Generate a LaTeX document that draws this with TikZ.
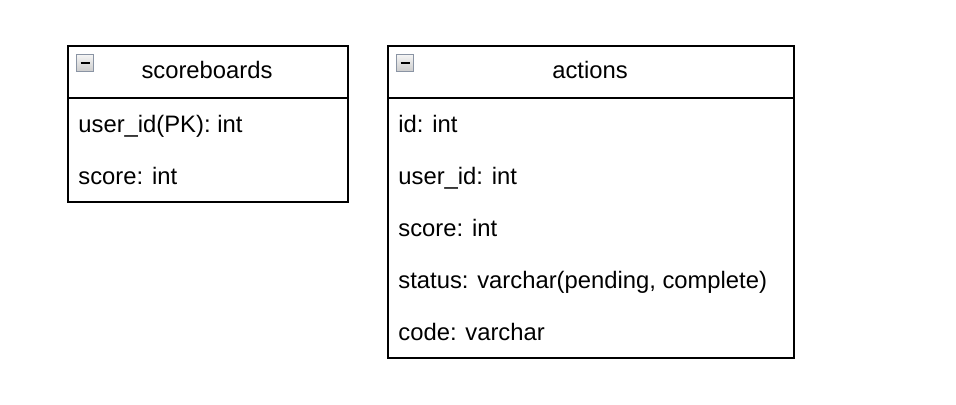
\documentclass[tikz,border=0pt]{standalone}
\usepackage{fontspec}
\setmainfont{Liberation Sans}
\usetikzlibrary{positioning}

\definecolor{foldgray}{RGB}{138,148,164}

\tikzset{
    tblbox/.style={draw, line width=1pt, rectangle, inner sep=0pt, anchor=north west},
    field/.style={anchor=base west, inner sep=0pt},
    title/.style={anchor=base, inner sep=0pt},
    fold/.style={draw=foldgray, line width=0.8pt, top color=gray!8, bottom color=gray!40,
        minimum size=8.5pt, inner sep=0pt,
        path picture={\draw[line width=1.1pt, black] ([xshift=2pt]path picture bounding box.west) -- ([xshift=-2pt]path picture bounding box.east);}}
}

\begin{document}
\begin{tikzpicture}[x=0.5pt, y=-0.5pt, every node/.style={font=\fontsize{11.9}{14}\selectfont}]

    \useasboundingbox (0,0) rectangle (956,404);

    % scoreboards
    \node[tblbox, minimum width=140pt, minimum height=26pt] (sbhead) at (66.5,44.5) {};
    \node[tblbox, minimum width=140pt, minimum height=52pt] (sbbody) at (66.5,96.5) {};
    \node[fold] (sbfold) at (85,63) {};
    \node[title] (sbname) at (207,78) {scoreboards};
    \foreach \i/\txt in {0/{user\_id(PK): int}, 1/{score: int}}
        \node[field] (sbf\i) at (78,132+52*\i) {\txt};

    % actions
    \node[tblbox, minimum width=203pt, minimum height=26pt] (achead) at (386.5,44.5) {};
    \node[tblbox, minimum width=203pt, minimum height=130pt] (acbody) at (386.5,96.5) {};
    \node[fold] (acfold) at (405,63) {};
    \node[title] (acname) at (590,78) {actions};
    \foreach \i/\txt in {0/{id: int}, 1/{user\_id: int}, 2/{score: int},
                         3/{status: varchar(pending, complete)}, 4/{code: varchar}}
        \node[field] (acf\i) at (398,132+52*\i) {\txt};

\end{tikzpicture}
\end{document}
